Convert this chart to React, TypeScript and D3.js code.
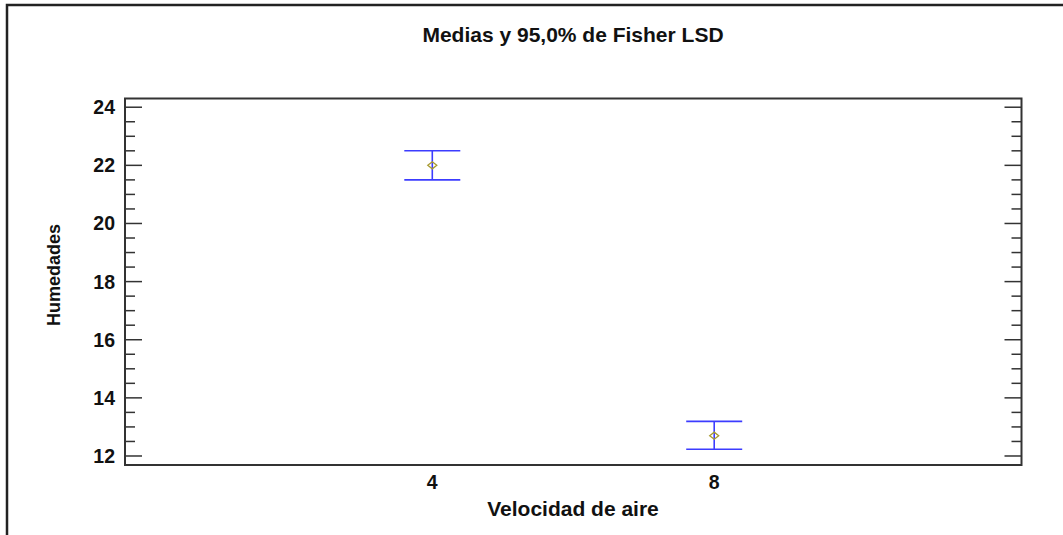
import React from "react";
import * as d3 from "d3";

// values
const categories = ["4", "8"];
const means = [22.0, 12.7];
const lowerLimits = [21.5, 12.23];
const upperLimits = [22.5, 13.19];
const majorTicks = [12, 14, 16, 18, 20, 22, 24];
const minorTicks = d3.range(12, 24.01, 0.5);

const title = "Medias y 95,0% de Fisher LSD";
const xTitle = "Velocidad de aire";
const yTitle = "Humedades";

export default function App() {
  const width = 1063;
  const height = 535;
  const plot = { left: 125, top: 98.5, right: 1021.5, bottom: 465 };
  const font = "'Liberation Sans', Arial, sans-serif";

  const x = d3
    .scalePoint()
    .domain(categories)
    .range([plot.left, plot.right])
    .padding(1.09);

  const y = d3.scaleLinear().domain([11.69, 24.3]).range([plot.bottom, plot.top]);

  const capHalf = 28;
  const blue = "#3c3cff";

  return (
    <svg
      width={width}
      height={height}
      style={{ position: "absolute", left: 0, top: 0, background: "#fff" }}
    >
      {/* outer frame, cropped at the right and bottom */}
      <rect x={7} y={5} width={width + 20} height={height + 20} fill="none" stroke="#222" strokeWidth={2.5} />

      <text x={573} y={42} textAnchor="middle" fontFamily={font} fontWeight="bold" fontSize={21} fill="#111">
        {title}
      </text>

      {/* ticks on the left and right, pointing inwards */}
      {minorTicks.map((v) => {
        const major = majorTicks.includes(v);
        const len = major ? 17 : 10;
        return (
          <g key={v} stroke="#333" strokeWidth={1.5}>
            <line x1={plot.left} x2={plot.left + len} y1={y(v)} y2={y(v)} />
            <line x1={plot.right - len} x2={plot.right} y1={y(v)} y2={y(v)} />
          </g>
        );
      })}

      {majorTicks.map((v) => (
        <text
          key={v}
          x={115}
          y={y(v)}
          dy="0.36em"
          textAnchor="end"
          fontFamily={font}
          fontWeight="bold"
          fontSize={19.5}
          fill="#111"
        >
          {v}
        </text>
      ))}

      <rect
        x={plot.left}
        y={plot.top}
        width={plot.right - plot.left}
        height={plot.bottom - plot.top}
        fill="none"
        stroke="#333"
        strokeWidth={2}
      />

      {categories.map((c, i) => {
        const cx = x(c) as number;
        const cy = y(means[i]);
        return (
          <g key={c}>
            <g stroke={blue} strokeWidth={1.6}>
              <line x1={cx} x2={cx} y1={y(upperLimits[i])} y2={y(lowerLimits[i])} />
              <line x1={cx - capHalf} x2={cx + capHalf} y1={y(upperLimits[i])} y2={y(upperLimits[i])} />
              <line x1={cx - capHalf} x2={cx + capHalf} y1={y(lowerLimits[i])} y2={y(lowerLimits[i])} />
            </g>
            <path
              d={`M${cx - 4.5},${cy} L${cx},${cy - 3.5} L${cx + 4.5},${cy} L${cx},${cy + 3.5} Z`}
              fill="none"
              stroke="#a89a30"
              strokeWidth={1.3}
            />
            <text
              x={cx}
              y={489}
              textAnchor="middle"
              fontFamily={font}
              fontWeight="bold"
              fontSize={19.5}
              fill="#111"
            >
              {c}
            </text>
          </g>
        );
      })}

      <text x={573} y={516} textAnchor="middle" fontFamily={font} fontWeight="bold" fontSize={21} fill="#111">
        {xTitle}
      </text>

      <text
        transform={`translate(60, 275) rotate(-90)`}
        textAnchor="middle"
        fontFamily={font}
        fontWeight="bold"
        fontSize={18}
        fill="#111"
      >
        {yTitle}
      </text>
    </svg>
  );
}
